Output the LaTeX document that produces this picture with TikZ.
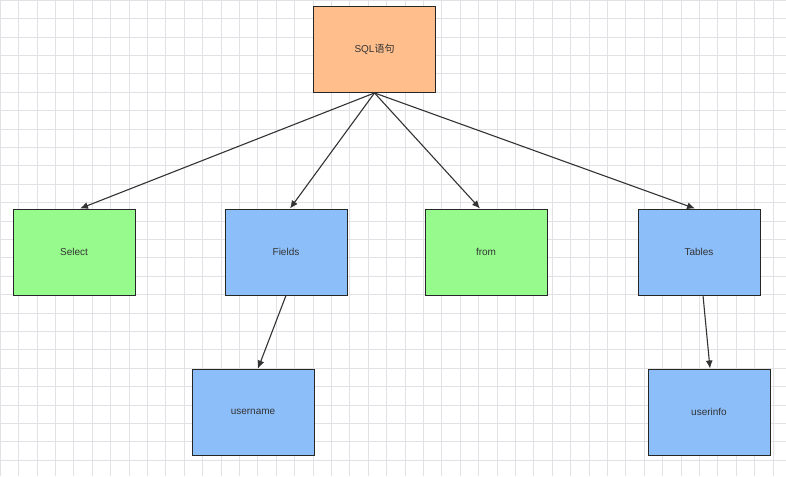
\documentclass[tikz,border=0pt]{standalone}
\usepackage{fontspec}
\setmainfont{Liberation Sans}
\newfontfamily\cjk{Noto Sans CJK SC}
\usetikzlibrary{arrows.meta}
\definecolor{gridc}{RGB}{225,225,230}
\definecolor{org}{RGB}{255,190,140}
\definecolor{grn}{RGB}{150,250,140}
\definecolor{blu}{RGB}{140,190,250}
\begin{document}
\begin{tikzpicture}[x=1pt,y=-1pt,
  box/.style={draw=black!85,line width=0.9pt,minimum width=122pt,minimum height=86pt,inner sep=0pt,font=\fontsize{10}{12}\selectfont,text=black!80},
  arr/.style={draw=black!80,line width=1.1pt,-{Latex[length=8pt,width=7pt]}}]
\useasboundingbox (0,0) rectangle (786,476);
\fill[white] (0,0) rectangle (786,476);
\foreach \i in {0,...,42} \draw[gridc,line width=0.5pt] (\i*18.4,0) -- (\i*18.4,476);
\foreach \j in {0,...,25} \draw[gridc,line width=0.5pt] (0,\j*18.4) -- (786,\j*18.4);
\node[box,fill=org] (sql) at (374.5,49.5) {SQL{\cjk 语句}};
\node[box,fill=grn] (sel) at (74,252) {Select};
\node[box,fill=blu] (fld) at (286,252) {Fields};
\node[box,fill=grn] (frm) at (486,252) {from};
\node[box,fill=blu] (tbl) at (699,252) {Tables};
\node[box,fill=blu] (usr) at (253,412) {username};
\node[box,fill=blu] (inf) at (709,412) {userinfo};
\coordinate (s) at (sql.south);
\draw[arr] (s) -- ([xshift=6pt]sel.north);
\draw[arr] (s) -- ([xshift=4pt]fld.north);
\draw[arr] (s) -- ([xshift=-6pt]frm.north);
\draw[arr] (s) -- ([xshift=-4pt]tbl.north);
\draw[arr] (fld.south) -- ([xshift=5pt]usr.north);
\draw[arr] ([xshift=4pt]tbl.south) -- ([xshift=1pt]inf.north);
\end{tikzpicture}
\end{document}
